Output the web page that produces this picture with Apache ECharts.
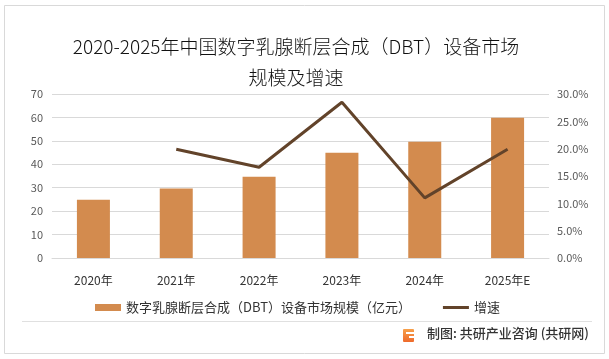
<!DOCTYPE html>
<html><head><meta charset="utf-8">
<script src="https://cdn.jsdelivr.net/npm/echarts@6/dist/echarts.min.js"></script>
<style>html,body{margin:0;padding:0;background:#fff}#c{width:609px;height:359px}</style>
</head><body><div id="c"></div>
<script>
var categories = ['2020年','2021年','2022年','2023年','2024年','2025年E'];
var marketSize = [24.9, 29.7, 34.7, 44.9, 49.6, 59.9];
var growthRate = [null, 19.9, 16.6, 28.5, 11.0, 19.9];
var leftTicks = {min: 0, max: 70, interval: 10};
var rightTicks = {min: 0, max: 30, interval: 5};
var FONT = '"Noto Sans CJK SC", "Noto Sans", sans-serif';

var chart = echarts.init(document.getElementById('c'), null, {renderer: 'canvas'});
chart.setOption({
  animation: false,
  backgroundColor: '#fff',
  textStyle: {fontFamily: FONT},
  title: {
    text: '2020-2025年中国数字乳腺断层合成（DBT）设备市场\n规模及增速',
    left: 291, top: 26, textAlign: 'center',
    textStyle: {fontSize: 19, fontWeight: 300, color: '#111', lineHeight: 31, fontFamily: FONT}
  },
  grid: {left: 52, right: 60, top: 94, bottom: 101},
  legend: {
    left: 90, top: 296, itemGap: 32, itemWidth: 26, itemHeight: 7,
    textStyle: {fontSize: 13, color: '#333', fontFamily: FONT},
    data: [
      {name: '数字乳腺断层合成（DBT）设备市场规模（亿元）', icon: 'rect'},
      {name: '增速', icon: 'path://M0,0 L26,0 L26,3 L0,3 Z'}
    ]
  },
  xAxis: {
    type: 'category', data: categories,
    axisLine: {lineStyle: {color: '#d9d9d9'}},
    axisTick: {show: false},
    axisLabel: {color: '#333', fontSize: 12, margin: 16, fontFamily: FONT}
  },
  yAxis: [
    {type: 'value', min: leftTicks.min, max: leftTicks.max, interval: leftTicks.interval,
     axisLine: {show: false}, axisTick: {show: false},
     axisLabel: {color: '#595959', fontSize: 11, margin: 9},
     splitLine: {lineStyle: {color: '#d9d9d9'}}},
    {type: 'value', min: rightTicks.min, max: rightTicks.max, interval: rightTicks.interval,
     axisLine: {show: false}, axisTick: {show: false},
     axisLabel: {color: '#595959', fontSize: 11, margin: 8, formatter: function(v){return v.toFixed(1)+'%';}},
     splitLine: {show: false}}
  ],
  series: [
    {name: '数字乳腺断层合成（DBT）设备市场规模（亿元）', type: 'bar', data: marketSize,
     barWidth: 33, itemStyle: {color: '#D38B4E'}},
    {name: '增速', type: 'line', yAxisIndex: 1, data: growthRate, symbol: 'none',
     lineStyle: {color: '#62432A', width: 3}, itemStyle: {color: '#62432A'}}
  ],
  graphic: [
    {type: 'rect', shape: {x: 4.5, y: 5.5, width: 600, height: 348}, style: {fill: 'none', stroke: '#d9d9d9', lineWidth: 1}, silent: true},
    {type: 'line', shape: {x1: 22, y1: 321.5, x2: 592, y2: 321.5}, style: {stroke: '#e0e0e0', lineWidth: 1}},
    {type: 'rect', shape: {x: 403, y: 329, width: 11, height: 13, r: 1},
     style: {fill: new echarts.graphic.LinearGradient(0,0,0,1,[{offset:0,color:'#F7A04A'},{offset:1,color:'#EE6A2C'}])}},
    {type: 'rect', shape: {x: 406, y: 332, width: 8, height: 2}, style: {fill: '#fff'}},
    {type: 'rect', shape: {x: 409, y: 336, width: 5, height: 2}, style: {fill: '#fff'}},
    {type: 'text', left: 427, top: 327,
     style: {text: '制图: 共研产业咨询 (共研网)', fontSize: 13, fill: '#333', fontFamily: FONT, fontWeight: 500}}
  ]
});
</script></body></html>
